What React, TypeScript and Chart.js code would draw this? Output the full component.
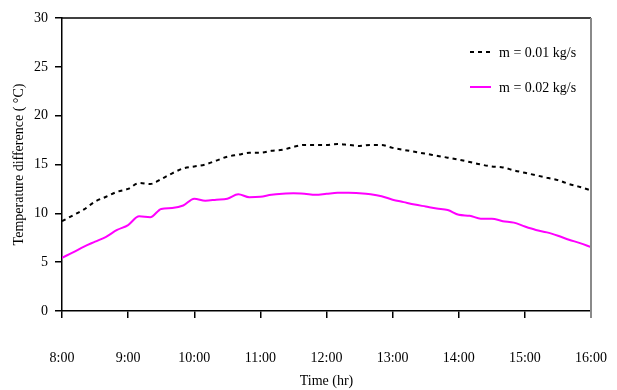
import React, { useEffect, useRef } from "react";
import { Chart, registerables } from "chart.js";

Chart.register(...registerables);

// Time of day in hours (every 10 minutes from 8:00 to 16:00)
const times: number[] = [
  8.0, 8.1667, 8.3333, 8.5, 8.6667, 8.8333,
  9.0, 9.1667, 9.3333, 9.5, 9.6667, 9.8333,
  10.0, 10.1667, 10.3333, 10.5, 10.6667, 10.8333,
  11.0, 11.1667, 11.3333, 11.5, 11.6667, 11.8333,
  12.0, 12.1667, 12.3333, 12.5, 12.6667, 12.8333,
  13.0, 13.1667, 13.3333, 13.5, 13.6667, 13.8333,
  14.0, 14.1667, 14.3333, 14.5, 14.6667, 14.8333,
  15.0, 15.1667, 15.3333, 15.5, 15.6667, 15.8333,
  16.0,
];

// m = 0.01 kg/s
const series001: number[] = [
  9.2, 9.8, 10.4, 11.2, 11.7, 12.2,
  12.5, 13.1, 13.0, 13.5, 14.1, 14.6,
  14.8, 15.0, 15.4, 15.8, 16.0, 16.2,
  16.2, 16.4, 16.5, 16.8, 17.0, 17.0,
  17.0, 17.1, 17.0, 16.9, 17.0, 17.0,
  16.7, 16.5, 16.3, 16.1, 15.9, 15.7,
  15.5, 15.25, 15.0, 14.8, 14.7, 14.4,
  14.15, 13.9, 13.65, 13.4, 13.0, 12.7,
  12.35,
];

// m = 0.02 kg/s
const series002: number[] = [
  5.45, 6.0, 6.6, 7.1, 7.6, 8.3,
  8.8, 9.7, 9.6, 10.45, 10.55, 10.8,
  11.5, 11.3, 11.4, 11.5, 11.95, 11.65,
  11.7, 11.9, 12.0, 12.05, 12.0, 11.9,
  12.0, 12.1, 12.1, 12.05, 11.95, 11.75,
  11.4, 11.15, 10.9, 10.7, 10.5, 10.35,
  9.85, 9.75, 9.45, 9.45, 9.2, 9.05,
  8.65, 8.3, 8.05, 7.7, 7.3, 6.95,
  6.55,
];

const seriesLabels: string[] = ["m = 0.01 kg/s", "m = 0.02 kg/s"];
const xTickLabels: string[] = ["8:00", "9:00", "10:00", "11:00", "12:00", "13:00", "14:00", "15:00", "16:00"];
const xTitle = "Time (hr)";
const yTitle = "Temperature difference ( °C)";

const FONT = "'Liberation Serif', 'Times New Roman', serif";

const framePlugin = {
  id: "frameAndLegend",
  afterDraw(chart: any) {
    const { ctx, chartArea } = chart;
    const { left, right, top, bottom } = chartArea;
    ctx.save();
    // top border
    ctx.strokeStyle = "#000";
    ctx.lineWidth = 1.5;
    ctx.beginPath();
    ctx.moveTo(left, top);
    ctx.lineTo(right, top);
    ctx.stroke();
    // right border (gray)
    ctx.strokeStyle = "#8a8a8a";
    ctx.lineWidth = 2;
    ctx.beginPath();
    ctx.moveTo(right, top);
    ctx.lineTo(right, bottom + 7);
    ctx.stroke();

    // legend
    const ds = chart.data.datasets;
    const lx0 = 470;
    const lx1 = 491;
    const tx = 499;
    const rows = [52, 87];
    ctx.font = `14px ${FONT}`;
    ctx.textBaseline = "middle";
    ctx.textAlign = "left";
    ds.forEach((d: any, i: number) => {
      const y = rows[i];
      ctx.strokeStyle = d.borderColor;
      ctx.lineWidth = d.borderWidth;
      ctx.setLineDash(d.borderDash || []);
      ctx.beginPath();
      ctx.moveTo(lx0, y);
      ctx.lineTo(lx1, y);
      ctx.stroke();
      ctx.setLineDash([]);
      ctx.fillStyle = "#000";
      ctx.fillText(d.label, tx, y + 1);
    });
    ctx.restore();
  },
};

export default function App() {
  const ref = useRef<HTMLCanvasElement | null>(null);

  useEffect(() => {
    if (!ref.current) return;
    const chart = new Chart(ref.current, {
      type: "line",
      data: {
        datasets: [
          {
            label: seriesLabels[0],
            data: times.map((t, i) => ({ x: t, y: series001[i] })),
            borderColor: "#000000",
            borderWidth: 2,
            borderDash: [4, 4],
            pointRadius: 0,
            tension: 0.4,
            cubicInterpolationMode: "monotone",
            fill: false,
          },
          {
            label: seriesLabels[1],
            data: times.map((t, i) => ({ x: t, y: series002[i] })),
            borderColor: "#ff00ff",
            borderWidth: 2,
            pointRadius: 0,
            tension: 0.4,
            cubicInterpolationMode: "monotone",
            fill: false,
          },
        ],
      },
      options: {
        animation: false,
        responsive: false,
        maintainAspectRatio: false,
        layout: { padding: { top: 18, right: 26, left: 0, bottom: 0 } },
        plugins: {
          legend: { display: false },
          tooltip: { enabled: false },
        },
        scales: {
          x: {
            type: "linear",
            min: 8,
            max: 16,
            afterFit: (s: any) => {
              s.height = 79;
              s.paddingLeft = 0;
              s.paddingRight = 0;
            },
            afterBuildTicks: (s: any) => {
              s.ticks = xTickLabels.map((_, i) => ({ value: 8 + i }));
            },
            ticks: {
              stepSize: 1,
              color: "#000",
              padding: 32,
              font: { family: FONT, size: 14 },
              callback: (v: any) => xTickLabels[Math.round(Number(v)) - 8] ?? "",
              maxRotation: 0,
              autoSkip: false,
            },
            grid: {
              drawOnChartArea: false,
              drawTicks: true,
              tickLength: 7,
              color: "#000",
              lineWidth: 1.5,
            },
            border: { display: true, color: "#000", width: 1.5 },
            title: {
              display: true,
              text: xTitle,
              color: "#000",
              font: { family: FONT, size: 14 },
              padding: { top: 0, bottom: 0 },
            },
          },
          y: {
            min: 0,
            max: 30,
            afterFit: (s: any) => {
              s.width = 62;
              s.paddingTop = 0;
              s.paddingBottom = 0;
            },
            ticks: {
              stepSize: 5,
              color: "#000",
              padding: 7,
              font: { family: FONT, size: 14 },
            },
            grid: {
              drawOnChartArea: false,
              drawTicks: true,
              tickLength: 7,
              color: "#000",
              lineWidth: 1.5,
            },
            border: { display: true, color: "#000", width: 1.5 },
            title: {
              display: true,
              text: yTitle,
              color: "#000",
              font: { family: FONT, size: 14 },
              padding: { top: 11, bottom: 0 },
            },
          },
        },
      },
      plugins: [framePlugin],
    } as any);
    return () => chart.destroy();
  }, []);

  return (
    <div style={{ position: "absolute", left: 0, top: 0, width: 617, height: 390, background: "#fff" }}>
      <canvas ref={ref} width={617} height={390} style={{ display: "block" }} />
    </div>
  );
}
